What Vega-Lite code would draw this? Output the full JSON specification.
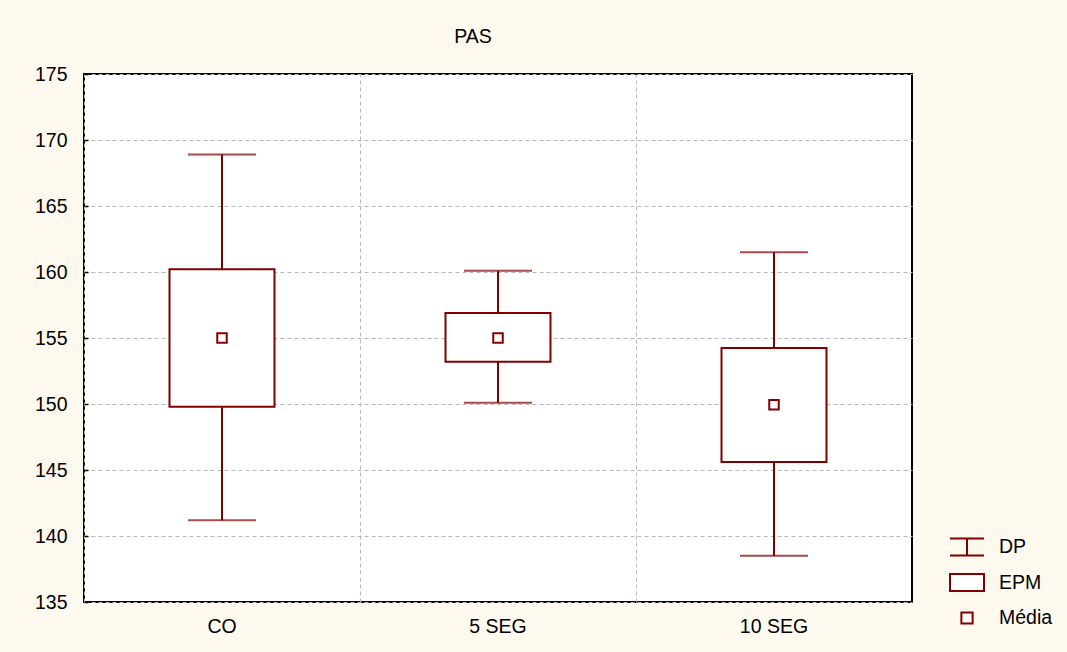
{
  "$schema": "https://vega.github.io/schema/vega-lite/v6.json",
  "width": 828,
  "height": 528,
  "autosize": {"type": "none"},
  "padding": {"left": 84, "top": 74, "right": 155, "bottom": 50},
  "background": "#FEF9EF",
  "title": {"text": "PAS", "fontSize": 19.5, "fontWeight": "normal", "font": "Liberation Sans", "color": "#000000", "offset": 17, "dx": -25},
  "config": {
    "view": {"stroke": "#000000", "strokeWidth": 2, "fill": "#FFFFFF"},
    "font": "Liberation Sans"
  },
  "data": {"values": [
    {"group": "CO", "mean": 155.0, "se_lo": 149.8, "se_hi": 160.2, "sd_lo": 141.2, "sd_hi": 168.9},
    {"group": "5 SEG", "mean": 155.0, "se_lo": 153.2, "se_hi": 156.9, "sd_lo": 150.1, "sd_hi": 160.1},
    {"group": "10 SEG", "mean": 149.95, "se_lo": 145.6, "se_hi": 154.25, "sd_lo": 138.5, "sd_hi": 161.5}
  ]},
  "encoding": {
    "x": {"field": "group", "type": "nominal", "sort": ["CO", "5 SEG", "10 SEG"],
      "scale": {"paddingInner": 0, "paddingOuter": 0}, "axis": null}
  },
  "layer": [
    {
      "mark": {"type": "rule", "strokeWidth": 2},
      "encoding": {
        "x": {"field": "group", "type": "nominal", "sort": ["CO", "5 SEG", "10 SEG"],
          "axis": {"title": null, "labelAngle": 0, "labelFontSize": 19.5, "labelColor": "#000000", "labelPadding": 15, "ticks": false, "domain": false, "grid": false, "orient": "bottom"}},
        "y": {"field": "sd_lo", "type": "quantitative", "scale": {"domain": [135, 175], "nice": false, "zero": false},
          "axis": {"title": null, "values": [135, 140, 145, 150, 155, 160, 165, 170, 175], "labelFontSize": 19.5, "labelColor": "#000000", "labelPadding": 21, "ticks": true, "tickSize": -4, "tickColor": "#000000", "tickWidth": 1.5, "domain": false, "grid": true, "gridColor": "#B8B8B8", "gridDash": [4, 3], "gridWidth": 1}},
        "y2": {"field": "sd_hi"},
        "stroke": {"datum": "DP", "type": "nominal",
          "scale": {"domain": ["DP", "EPM", "Média"], "range": ["#800000", "#800000", "#800000"]},
          "legend": {"title": null, "orient": "none", "legendX": 865, "legendY": 455, "labelFontSize": 19.5, "labelColor": "#000000", "symbolSize": 1156, "symbolStrokeWidth": 2, "symbolFillColor": "#FFFFFF", "symbolStrokeColor": "#800000", "rowPadding": 4.5, "labelOffset": 14,
            "encode": {"symbols": {"update": {
              "shape": {"signal": "datum.value === 'DP' ? 'M-1,-0.5H1M0,-0.5V0.5M-1,0.5H1' : datum.value === 'EPM' ? 'M-1,-0.5H1V0.5H-1Z' : 'M-0.33,-0.33H0.33V0.33H-0.33Z'"},
              "stroke": {"value": "#800000"},
              "fill": {"value": "#FFFFFF"},
              "strokeWidth": {"value": 2},
              "opacity": {"value": 1}
            }}}}}
      }
    },
    {
      "mark": {"type": "tick", "color": "#800000", "size": 68, "thickness": 2},
      "encoding": {"y": {"field": "sd_hi", "type": "quantitative"}}
    },
    {
      "mark": {"type": "tick", "color": "#800000", "size": 68, "thickness": 2},
      "encoding": {"y": {"field": "sd_lo", "type": "quantitative"}}
    },
    {
      "mark": {"type": "bar", "fill": "#FFFFFF", "strokeWidth": 2, "width": 105},
      "encoding": {
        "y": {"field": "se_lo", "type": "quantitative"},
        "y2": {"field": "se_hi"},
        "stroke": {"datum": "EPM", "type": "nominal"}
      }
    },
    {
      "mark": {"type": "point", "shape": "square", "filled": false, "fill": "#FFFFFF", "strokeWidth": 2, "size": 90, "opacity": 1},
      "encoding": {
        "x": {"field": "group", "type": "nominal", "sort": ["CO", "5 SEG", "10 SEG"],
          "axis": {"title": null, "labels": false, "ticks": false, "domain": false, "grid": true, "bandPosition": 0, "gridColor": "#B8B8B8", "gridDash": [4, 3], "gridWidth": 1, "orient": "top"}},
        "y": {"field": "mean", "type": "quantitative"},
        "stroke": {"datum": "Média", "type": "nominal"}
      }
    }
  ],
  "resolve": {"axis": {"x": "independent"}}
}
